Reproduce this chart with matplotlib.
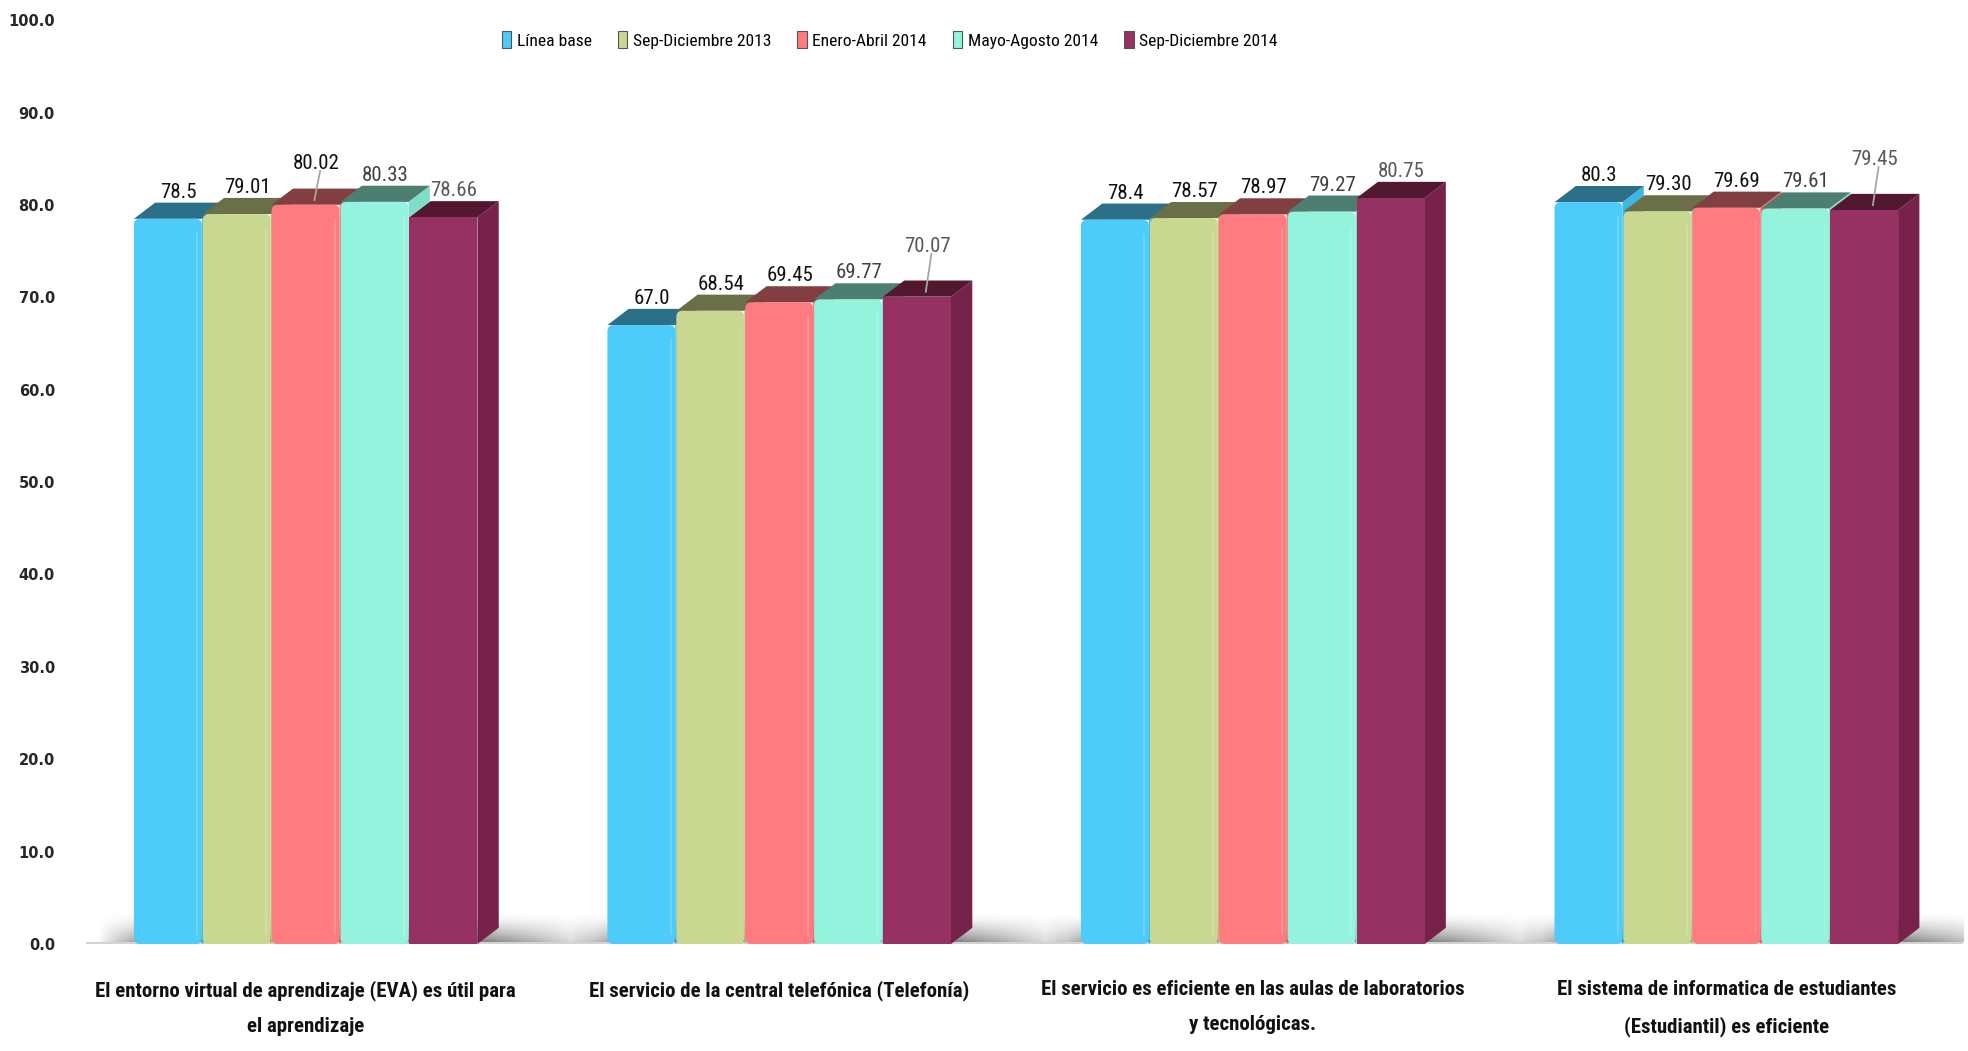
import numpy as np
import matplotlib
matplotlib.use("Agg")
import matplotlib.pyplot as plt
from matplotlib.patches import Polygon, FancyBboxPatch, Rectangle
from matplotlib import font_manager

# ---------------- data ----------------
categories = [
    "El entorno virtual de aprendizaje (EVA) es útil para\nel aprendizaje",
    "El servicio de la central telefónica (Telefonía)",
    "El servicio es eficiente en las aulas de laboratorios\ny tecnológicas.",
    "El sistema de informatica de estudiantes\n(Estudiantil) es eficiente",
]
series_names = ["Línea base", "Sep-Diciembre 2013", "Enero-Abril 2014",
                "Mayo-Agosto 2014", "Sep-Diciembre 2014"]
linea_base = [78.5, 67.0, 78.4, 80.3]
sep_dic_2013 = [79.01, 68.54, 78.57, 79.30]
ene_abr_2014 = [80.02, 69.45, 78.97, 79.69]
may_ago_2014 = [80.33, 69.77, 79.27, 79.61]
sep_dic_2014 = [78.66, 70.07, 80.75, 79.45]
label_texts = [
    ["78.5", "67.0", "78.4", "80.3"],
    ["79.01", "68.54", "78.57", "79.30"],
    ["80.02", "69.45", "78.97", "79.69"],
    ["80.33", "69.77", "79.27", "79.61"],
    ["78.66", "70.07", "80.75", "79.45"],
]
yticks = [0, 10, 20, 30, 40, 50, 60, 70, 80, 90, 100]

values = [linea_base, sep_dic_2013, ene_abr_2014, may_ago_2014, sep_dic_2014]

# ---------------- style ----------------
front = ["#4DCBF9", "#C8D891", "#FF7B80", "#93F3DD", "#963163"]
topc = ["#2B6F88", "#6B6F48", "#823F42", "#4C7F71", "#52182F"]
sidec = ["#3DB8E4", "#B6C680", "#EA6C71", "#80DEC8", "#76224A"]
label_col = ["#111111", "#111111", "#111111", "#404040", "#595959"]
lifted = {(0, 2): 1.6, (1, 4): 2.6, (3, 4): 2.6}  # labels with leader lines

avail = {f.name for f in font_manager.fontManager.ttflist}
narrow = [f for f in ["Liberation Sans Narrow", "Roboto Condensed", "DejaVu Sans Condensed"] if f in avail]
narrow_fam = narrow + ["DejaVu Sans"]

fig = plt.figure(figsize=(19.68, 10.51), dpi=100)
ax = fig.add_axes([0.035, 0.1018, 0.9625, 0.879])
ax.set_xlim(-0.5, 3.5)
ax.set_ylim(0, 100)
for s in ax.spines.values():
    s.set_visible(False)

bw = 0.1435
pitch = 0.1455
dx = 0.045
dy = 1.75
px_x = 4.0 / (0.9625 * 1968)
px_y = 100.0 / (0.879 * 1051)
asp = px_y / px_x

# floor line
ax.axhline(0, xmin=0.01, xmax=1.0, color="#D3D3D3", lw=3, zorder=1)

# floor shadows
for g in range(len(categories)):
    x0 = g - 2.5 * pitch - 0.075
    x1 = g + 2.5 * pitch + dx + 0.20
    nx, ny = 240, 40
    xs = np.linspace(0, 1, nx)
    ys = np.linspace(0, 1, ny)
    h = np.clip(np.minimum(xs / 0.15, (1 - xs) / 0.30), 0, 1) ** 0.8
    v = np.clip(1 - ys, 0, 1) ** 1.5
    a = np.outer(v, h)
    img = np.zeros((ny, nx, 4))
    img[..., :3] = 0.35
    img[..., 3] = 0.95 * a
    ax.imshow(img, extent=[x0, x1, 0.25, 3.4], origin="lower", aspect="auto",
              zorder=1.5, interpolation="bilinear")

# bars
for g in range(len(categories)):
    for i, vals in enumerate(values):
        v = vals[g]
        xl = g + (i - 2) * pitch - bw / 2
        xr = xl + bw
        z = 2 + i * 0.1
        side = Polygon([[xr, 0], [xr + dx, dy], [xr + dx, v + dy], [xr, v]],
                       closed=True, fc=sidec[i], ec="none", zorder=z)
        top = Polygon([[xl, v], [xl + dx, v + dy], [xr + dx, v + dy], [xr, v]],
                      closed=True, fc=topc[i], ec="none", zorder=z + 0.01)
        ax.add_patch(side)
        ax.add_patch(top)
        if i < 4:
            fr = FancyBboxPatch((xl, 0), bw, v,
                                boxstyle="round,pad=0,rounding_size=0.013",
                                mutation_aspect=asp, fc=front[i], ec="none",
                                zorder=z + 0.02)
            ax.add_patch(fr)
            ax.add_patch(Rectangle((xr - 0.012, 1.0), 0.004, v - 2.5,
                                   fc="white", alpha=0.18, ec="none", zorder=z + 0.03))
        else:
            ax.add_patch(Rectangle((xl, 0), bw, v, fc=front[i], ec="none", zorder=z + 0.02))

        cx = (xl + xr) / 2 + dx / 2
        lift = lifted.get((g, i), 0.0)
        ly = v + dy + 0.1 + lift
        ax.text(cx, ly, label_texts[i][g], ha="center", va="bottom",
                fontsize=15, color=label_col[i], family=narrow_fam, zorder=10)
        if lift > 0:
            ax.plot([cx - 0.004, cx + 0.008], [v + dy * 0.3, ly + 0.2],
                    color="#A6A6A6", lw=1.3, zorder=9)

# axes ticks
ax.set_yticks(yticks)
ax.set_yticklabels([f"{t:.1f}" for t in yticks], fontsize=10.5, fontweight="bold",
                   color="#262626", family="DejaVu Sans")
ax.set_xticks(range(len(categories)))
ax.set_xticklabels(categories, fontsize=15, fontweight="bold", color="#111111",
                   family=narrow_fam, linespacing=2.05)
ax.tick_params(axis="both", length=0)
ax.tick_params(axis="y", pad=10)
ax.tick_params(axis="x", pad=26)

# legend
handles = [Rectangle((0, 0), 1, 1, fc=front[i], ec="#555555", lw=0.8) for i in range(5)]
fig.legend(handles, series_names, loc="center", bbox_to_anchor=(0.452, 0.962),
           ncol=5, frameon=False, handlelength=0.55, handleheight=1.1,
           handletextpad=0.3, columnspacing=1.5, prop={"family": narrow_fam, "size": 12.6})

fig.savefig("out.png", dpi=100, facecolor="white")
